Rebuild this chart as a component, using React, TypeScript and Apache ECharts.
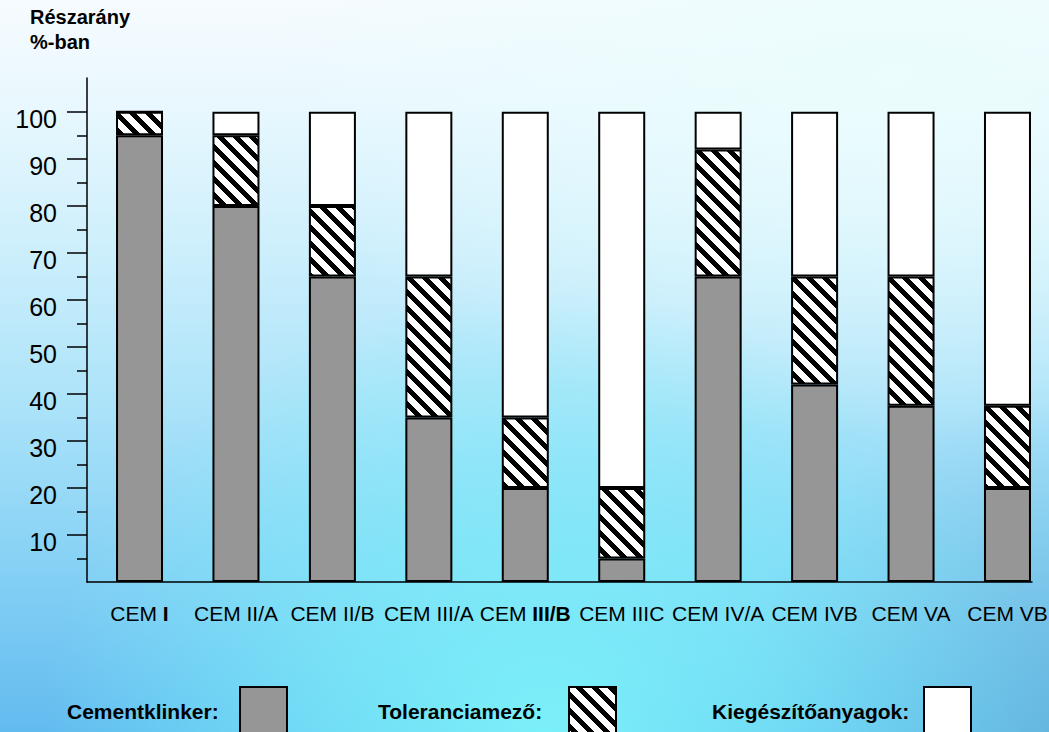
import React, { useEffect, useRef } from 'react';
import * as echarts from 'echarts';

// Cement types (the bold tail is rendered in bold on the axis)
const categories = ['CEM I', 'CEM II/A', 'CEM II/B', 'CEM III/A', 'CEM III/B', 'CEM IIIC', 'CEM IV/A', 'CEM IVB', 'CEM VA', 'CEM VB'];
const boldTails = ['I', '', '', '', 'III/B', '', '', '', '', ''];

// Share of each component in percent
const clinker = [95, 80, 65, 35, 20, 5, 65, 42, 37.5, 20];
const tolerance = [5, 15, 15, 30, 15, 15, 27, 23, 27.5, 17.5];
const supplementary = [0, 5, 20, 35, 65, 80, 8, 35, 35, 62.5];

const seriesNames = ['Cementklinker', 'Toleranciamező', 'Kiegészítőanyagok'];
const majorTicks = [10, 20, 30, 40, 50, 60, 70, 80, 90, 100];
const minorTicks = [5, 15, 25, 35, 45, 55, 65, 75, 85, 95];
const yTitle = ['Részarány', '%-ban'];

const FONT = 'Arial, "Liberation Sans", Helvetica, sans-serif';
const GRAY = '#969696';
const Y_MAX = 107.2;

function makeHatch(): HTMLCanvasElement {
  const size = 16;
  const c = document.createElement('canvas');
  c.width = size;
  c.height = size;
  const ctx = c.getContext('2d')!;
  ctx.fillStyle = '#ffffff';
  ctx.fillRect(0, 0, size, size);
  ctx.fillStyle = '#000000';
  for (let y = 0; y < size; y++) {
    for (let x = 0; x < size; x++) {
      if ((((x - y) % size) + size) % size < 7) ctx.fillRect(x, y, 1, 1);
    }
  }
  return c;
}

function categoryLabel(name: string, i: number): string {
  const tail = boldTails[i];
  if (tail) {
    const head = name.slice(0, name.length - tail.length);
    return `{n|${head}}{b|${tail}}`;
  }
  return `{n|${name}}`;
}

export default function App() {
  const ref = useRef<HTMLDivElement>(null);

  useEffect(() => {
    document.body.style.margin = '0';
    const chart = echarts.init(ref.current!, null, { renderer: 'svg' });
    const hatch = { image: makeHatch(), repeat: 'repeat' as const };
    const border = { borderColor: '#000', borderWidth: 2 };
    const axisStroke = { color: '#000', width: 1.5 };

    const legendItems = [
      { text: seriesNames[0] + ':', tx: 67, bx: 240, fill: GRAY as any },
      { text: seriesNames[1] + ':', tx: 378, bx: 569, fill: hatch as any },
      { text: seriesNames[2] + ':', tx: 712, bx: 924, fill: '#ffffff' as any },
    ];

    const graphics: any[] = [];
    yTitle.forEach((t, k) => {
      graphics.push({
        type: 'text',
        x: 30,
        y: 17 + k * 24.5,
        style: { text: t, fontFamily: FONT, fontSize: 20, fontWeight: 'bold', fill: '#000', verticalAlign: 'middle' },
      });
    });
    legendItems.forEach((it) => {
      graphics.push({
        type: 'text',
        x: it.tx,
        y: 711,
        style: { text: it.text, fontFamily: FONT, fontSize: 21, fontWeight: 'bold', fill: '#000', verticalAlign: 'middle' },
      });
      graphics.push({
        type: 'rect',
        shape: { x: it.bx, y: 687, width: 47, height: 60 },
        style: { fill: it.fill, stroke: '#000', lineWidth: 2 },
      });
    });

    const barSeries = (name: string, values: number[], color: any) => ({
      name,
      type: 'bar',
      stack: 'total',
      xAxisIndex: 1,
      yAxisIndex: 2,
      barWidth: 47,
      data: values,
      itemStyle: { color, ...border },
    });

    chart.setOption({
      animation: false,
      backgroundColor: 'transparent',
      grid: [
        // frame: axis lines and y ticks
        { left: 87, width: 945, top: 78, bottom: 150, containLabel: false, outerBoundsMode: 'none' },
        // bars: one band per cement type
        { left: 91.3, width: 964.4, top: 78, bottom: 150, containLabel: false, outerBoundsMode: 'none' },
      ],
      xAxis: [
        {
          gridIndex: 0,
          type: 'value',
          min: 0,
          max: 1,
          axisLine: { show: true, onZero: false, lineStyle: axisStroke },
          axisTick: { show: false },
          axisLabel: { show: false },
          splitLine: { show: false },
        },
        {
          gridIndex: 1,
          type: 'category',
          data: categories,
          boundaryGap: true,
          axisLine: { show: false },
          axisTick: { show: false },
          splitLine: { show: false },
          axisLabel: {
            interval: 0,
            margin: 21,
            formatter: (v: string, i: number) => categoryLabel(v, i),
            rich: {
              n: { fontFamily: FONT, fontSize: 21, color: '#000' },
              b: { fontFamily: FONT, fontSize: 21, fontWeight: 'bold', color: '#000' },
            },
          },
        },
      ],
      yAxis: [
        {
          gridIndex: 0,
          type: 'value',
          position: 'left',
          min: 0,
          max: Y_MAX,
          axisLine: { show: true, onZero: false, lineStyle: axisStroke },
          axisTick: { show: true, length: 20, customValues: majorTicks, lineStyle: axisStroke },
          axisLabel: {
            customValues: majorTicks,
            margin: 30,
            formatter: '{a|{value}}',
            rich: { a: { fontFamily: FONT, fontSize: 25, color: '#000', padding: [14, 0, 0, 0] } },
          },
          splitLine: { show: false },
        },
        {
          gridIndex: 0,
          type: 'value',
          position: 'left',
          min: 0,
          max: Y_MAX,
          axisLine: { show: false, onZero: false },
          axisTick: { show: true, length: 10, customValues: minorTicks, lineStyle: axisStroke },
          axisLabel: { show: false },
          splitLine: { show: false },
        },
        {
          gridIndex: 1,
          type: 'value',
          min: 0,
          max: Y_MAX,
          axisLine: { show: false, onZero: false },
          axisTick: { show: false },
          axisLabel: { show: false },
          splitLine: { show: false },
        },
      ],
      series: [
        barSeries(seriesNames[0], clinker, GRAY),
        barSeries(seriesNames[1], tolerance, hatch),
        barSeries(seriesNames[2], supplementary, '#ffffff'),
      ],
      graphic: graphics,
    });

    return () => chart.dispose();
  }, []);

  return (
    <div
      ref={ref}
      style={{
        position: 'absolute',
        left: 0,
        top: 0,
        width: 1049,
        height: 732,
        background:
          'radial-gradient(ellipse 48% 60% at 52% 100%, rgba(124,243,250,0.95) 0%, rgba(124,243,250,0.6) 45%, rgba(124,243,250,0) 100%),' +
          'radial-gradient(ellipse 30% 45% at 100% 100%, rgba(105,180,212,0.55) 0%, rgba(105,180,212,0) 100%),' +
          'radial-gradient(ellipse 60% 50% at 85% 10%, rgba(235,253,253,0.9) 0%, rgba(235,253,253,0) 100%),' +
          'linear-gradient(180deg, #f6fbff 0%, #e9f8fe 14%, #cdeffc 34%, #ace3f9 55%, #88d2f5 76%, #62bbef 100%)',
      }}
    />
  );
}
